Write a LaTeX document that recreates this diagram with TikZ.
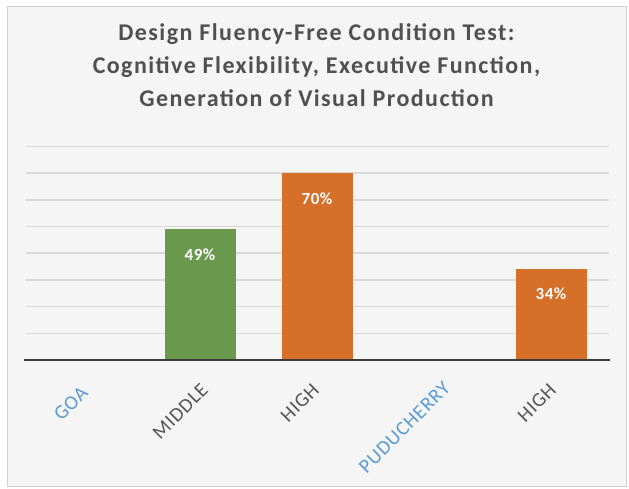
\documentclass[tikz,border=0pt]{standalone}
\usepackage{fontspec}
\setmainfont{Carlito}
\definecolor{bgc}{HTML}{F5F5F5}
\definecolor{framec}{HTML}{D0D0D0}
\definecolor{gridc}{HTML}{D9D9D9}
\definecolor{axisc}{HTML}{3A3A3A}
\definecolor{titlec}{HTML}{505050}
\definecolor{labc}{HTML}{555555}
\definecolor{bluec}{HTML}{5B9BD5}
\definecolor{greenc}{HTML}{6A994D}
\definecolor{orangec}{HTML}{D67029}
\begin{document}
\begin{tikzpicture}[x=1pt,y=-1pt,
  titletext/.style={anchor=base,inner sep=0pt,text=titlec,font=\fontsize{24}{28}\selectfont\bfseries\addfontfeature{LetterSpace=6}},
  bar/.style={draw=none,inner sep=0pt,minimum width=71pt,anchor=south},
  vlab/.style={inner sep=0pt,text=white,font=\fontsize{17}{19}\selectfont\bfseries\addfontfeature{LetterSpace=3}},
  cat/.style={rotate=45,anchor=north east,inner sep=0pt,font=\fontsize{20}{22}\selectfont\addfontfeature{LetterSpace=4}},
  gridline/.style={draw=gridc,line width=1.6pt},
  axisline/.style={draw=axisc,line width=2.4pt}]
\useasboundingbox (0,0) rectangle (629,488);
\fill[white] (0,0) rectangle (629,488);
\draw[draw=framec,fill=bgc,line width=1pt] (7,6) rectangle (626,486);
% title
\node[titletext] (t1) at (316.5,40) {Design Fluency-Free Condition Test:};
\node[titletext] (t2) at (316.5,73) {Cognitive Flexibility, Executive Function,};
\node[titletext] (t3) at (316.5,106) {Generation of Visual Production};
% gridlines
\foreach \k in {1,...,8} {
  \coordinate (gl\k) at (26,{360-\k*26.7});
  \coordinate (gr\k) at (609,{360-\k*26.7});
  \draw[gridline] (gl\k) -- (gr\k);
}
% bars
\node[bar,fill=greenc,minimum height=130.8pt] (b2) at (200,360) {};
\node[bar,fill=orangec,minimum height=186.9pt] (b3) at (317,360) {};
\node[bar,fill=orangec,minimum height=90.8pt] (b5) at (551,360) {};
% value labels
\node[vlab] (v2) at (200,255) {49\%};
\node[vlab] (v3) at (317,199) {70\%};
\node[vlab] (v5) at (551,294) {34\%};
% axis
\coordinate (al) at (24,360);
\coordinate (ar) at (610,360);
\draw[axisline] (al) -- (ar);
% category labels
\node[cat,text=bluec] (c1) at (80,385) {GOA};
\node[cat,text=labc] (c2) at (200,382) {MIDDLE};
\node[cat,text=labc] (c3) at (311,382) {HIGH};
\node[cat,text=bluec] (c4) at (442,380) {PUDUCHERRY};
\node[cat,text=labc] (c5) at (548,382) {HIGH};
\end{tikzpicture}
\end{document}
